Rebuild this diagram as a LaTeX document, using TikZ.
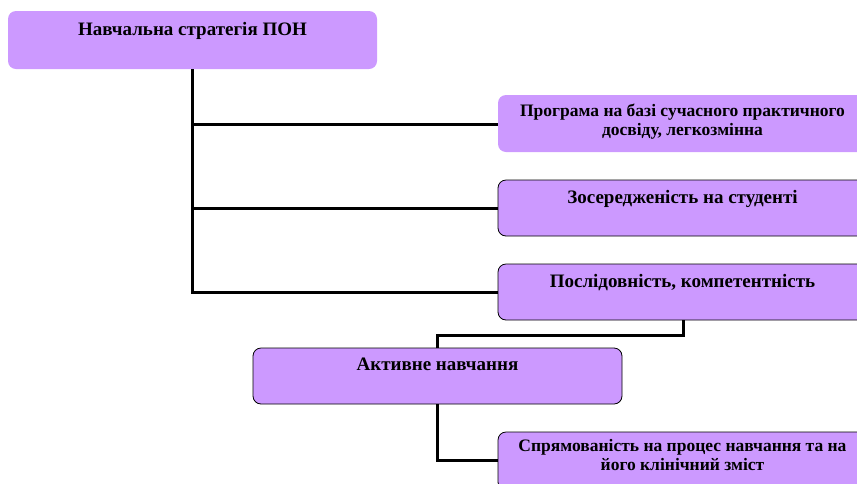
\documentclass[tikz,border=0pt]{standalone}
\usepackage{fontspec}
\setmainfont{Liberation Serif}
\begin{document}
\begin{tikzpicture}[x=1pt,y=-1pt,
  box/.style={fill=boxfill,rounded corners=8pt},
  framed/.style={box,draw=black,line width=0.8pt},
  lbl/.style={anchor=base,align=center,inner sep=0pt,font=\bfseries\fontsize{19}{23}\selectfont},
  slbl/.style={anchor=base,align=center,inner sep=0pt,font=\bfseries\fontsize{17.5}{19}\selectfont},
  conn/.style={line width=3pt}]
\definecolor{boxfill}{HTML}{CC99FF}
\useasboundingbox (0,0) rectangle (857,483);
\begin{scope}
\clip (0,0) rectangle (857,483);
% boxes
\path[box] (8,11) rectangle (377,69);
\node[lbl] (t0) at (192.5,35.5) {Навчальна стратегія ПОН};
\path[box] (498,95) rectangle (867,152);
\node[slbl] (t1) at (682.5,135.5) {Програма на базі сучасного практичного\\досвіду, легкозмінна};
\path[framed] (498,180) rectangle (867,236);
\node[lbl] (t2) at (682.5,203) {Зосередженість на студенті};
\path[framed] (498,264) rectangle (867,320);
\node[lbl] (t3) at (682.5,287) {Послідовність, компетентність};
\path[framed] (253,348) rectangle (622,404);
\node[lbl] (t4) at (437.5,370) {Активне навчання};
\path[framed] (498,432) rectangle (867,490);
\node[slbl] (t5) at (682.5,470) {Спрямованість на процес навчання та на\\його клінічний зміст};
% connector anchors
\coordinate (a0) at (192,69);
\coordinate (b1) at (498,124);
\coordinate (b2) at (498,208);
\coordinate (b3) at (498,292);
\coordinate (c3) at (683,320);
\coordinate (c4) at (437,348);
\coordinate (d4) at (437,404);
\coordinate (e5) at (498,460);
\draw[conn] (a0) |- (b3);
\draw[conn] (a0 |- b1) -- (b1);
\draw[conn] (a0 |- b2) -- (b2);
\draw[conn] (c3) -- ++(0,15) -| (c4);
\draw[conn] (d4) |- (e5);
\end{scope}
\end{tikzpicture}
\end{document}
